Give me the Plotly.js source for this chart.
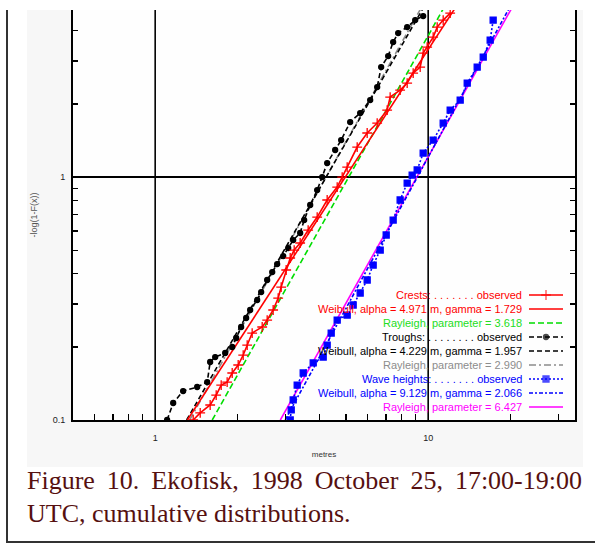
<!DOCTYPE html>
<html><head><meta charset="utf-8">
<script src="https://cdn.plot.ly/plotly-3.0.1.min.js"></script>
<style>
html,body{margin:0;padding:0;background:#fff;width:595px;height:544px;overflow:hidden;}
#frame{position:absolute;left:6px;top:10px;width:600px;height:531px;border-left:2px solid #333;border-bottom:2px solid #333;}
#chart{position:absolute;left:27px;top:10px;width:556px;height:457px;}
.cap{position:absolute;left:27px;width:555px;font-family:"Liberation Serif","Times New Roman",serif;font-size:26px;color:#561010;line-height:33px;}
#cap1{top:464px;text-align:justify;text-align-last:justify;}
#cap2{top:497px;text-align:left;}
</style>
</head><body>
<div id="frame"></div>
<div id="chart"></div>
<div class="cap" id="cap1">Figure 10. Ekofisk, 1998 October 25, 17:00-19:00</div>
<div class="cap" id="cap2">UTC, cumulative distributions.</div>
<script>
// ---- observed data (metres, -log(1-F(x))) ----
const crestX = [1.378,1.462,1.590,1.673,1.745,1.835,1.915,2.014,2.101,2.173,2.266,2.466,2.572,2.705,2.822,2.894,3.019,3.123,3.230,3.397,3.634,3.921,4.266,4.642,4.842,5.050,5.495,5.978,6.505,7.076,7.257,7.894,8.377,8.812,9.348,9.587,9.916,10.43,10.79,11.35,12.04];
const crestY = [0.100,0.1069,0.1153,0.1267,0.1393,0.1433,0.1561,0.1684,0.1851,0.2035,0.2280,0.2414,0.2579,0.2836,0.3177,0.3526,0.4144,0.4642,0.5007,0.5351,0.6052,0.6845,0.8043,0.9097,1.000,1.099,1.329,1.518,1.668,1.887,2.134,2.280,2.437,2.679,2.836,3.238,3.428,3.768,4.142,4.427,4.730];
const troughX = [1.106,1.164,1.266,1.425,1.551,1.590,1.659,1.805,1.915,1.980,2.065,2.154,2.228,2.364,2.445,2.572,2.684,2.798,2.944,3.071,3.203,3.397,3.514,3.697,3.921,4.090,4.266,4.564,4.801,5.179,5.635,6.132,6.505,6.727,7.136,7.443,7.764,8.377,8.964,9.587];
const troughY = [0.100,0.1175,0.1316,0.1367,0.1433,0.1733,0.1816,0.1887,0.1997,0.2175,0.2414,0.2629,0.2836,0.3118,0.3363,0.3769,0.4064,0.4385,0.4730,0.5103,0.5505,0.5883,0.6653,0.7671,0.8841,1.000,1.142,1.292,1.420,1.684,1.834,2.074,2.346,2.836,3.148,3.593,3.913,4.142,4.427,4.598];
const waveX = [3.123,3.150,3.203,3.313,3.485,3.792,4.125,4.266,4.413,4.642,5.050,5.312,5.635,5.978,6.288,6.672,7.018,7.443,7.894,8.377,8.737,9.115,9.587,10.43,11.35,12.04,13.10,13.90,15.12,15.91,16.87,17.30];
const waveY = [0.100,0.1100,0.1209,0.1393,0.1561,0.1717,0.1816,0.2035,0.2280,0.2579,0.2704,0.2974,0.3332,0.3769,0.4343,0.5007,0.5773,0.6653,0.8043,0.9447,1.019,1.069,1.255,1.420,1.668,1.887,2.074,2.437,2.836,3.117,3.663,4.427];
// ---- fitted distributions (end points of straight lines on log-log axes) ----
const crestWeibullX = [1.312, 12.61];  const crestWeibullY = [0.1, 5];
const crestRayleighX = [1.618, 11.44]; const crestRayleighY = [0.1, 5];
const troughWeibullX = [1.304, 9.626]; const troughWeibullY = [0.1, 5];
const troughRayleighX = [1.337, 9.455]; const troughRayleighY = [0.1, 5];
const waveWeibullX = [2.995, 19.89];   const waveWeibullY = [0.1, 5];
const waveRayleighX = [2.874, 20.32];  const waveRayleighY = [0.1, 5];
// ---- labels ----
const legendLabels = [
  "Crests: . . . . . . . observed",
  "Weibull, alpha = 4.971 m, gamma = 1.729",
  "Rayleigh, parameter = 3.618",
  "Troughs: . . . . . . . . observed",
  "Weibull, alpha = 4.229 m, gamma = 1.957",
  "Rayleigh, parameter = 2.990",
  "Wave heights: . . . . . . . observed",
  "Weibull, alpha = 9.129 m, gamma = 2.066",
  "Rayleigh, parameter = 6.427"];
const xTickVals = [0.6,0.7,0.8,0.9,1,2,3,4,5,6,7,8,9,10,20,30];
const xTickText = ["","","","","1","","","","","","","","","10","",""];
const yTickVals = [0.1,0.2,0.3,0.4,0.5,0.6,0.7,0.8,0.9,1,2,3,4];
const yTickText = ["0.1","","","","","","","","","1","","",""];
const xGridVals = [1, 10];
const yGridVals = [1];

// ---- styles ----
const RED='#ff0000', GREEN='#00dd00', BLACK='#000000', GRAY='#8c8c8c', BLUE='#0000ff', MAG='#ff00ff';
const styles = [
  {color:RED, dash:'solid', marker:'cross-thin-open', msize:7, textColor:RED},
  {color:RED, dash:'solid', textColor:RED},
  {color:GREEN, dash:'6px,3px', textColor:'#22dd22'},
  {color:BLACK, dash:'5px,3px', marker:'circle', msize:5, textColor:BLACK},
  {color:BLACK, dash:'5px,3px', textColor:BLACK},
  {color:GRAY, dash:'7px,3px,2px,3px', textColor:GRAY},
  {color:BLUE, dash:'2px,2px', marker:'square', msize:6, textColor:BLUE},
  {color:BLUE, dash:'4px,2px,2px,2px', textColor:BLUE},
  {color:MAG, dash:'solid', textColor:MAG}
];
const series = [
  [crestX, crestY], [crestWeibullX, crestWeibullY], [crestRayleighX, crestRayleighY],
  [troughX, troughY], [troughWeibullX, troughWeibullY], [troughRayleighX, troughRayleighY],
  [waveX, waveY], [waveWeibullX, waveWeibullY], [waveRayleighX, waveRayleighY]
];
const drawOrder = [5,4,2,1,8,7,3,0,6];
const traces = [];
drawOrder.forEach(i => {
  const s = styles[i];
  const t = {x: series[i][0], y: series[i][1], type:'scatter', name: legendLabels[i],
    mode: s.marker ? 'lines+markers' : 'lines',
    line:{color:s.color, width:1.6, dash:s.dash}, hoverinfo:'skip', showlegend:false};
  if (s.marker) t.marker = {symbol:s.marker, size:s.msize, color:s.color, line:{color:s.color, width:1.3}};
  traces.push(t);
});

// ---- manual legend (text left of key, right aligned) ----
const plotTop = 10, plotBottom = 420, plotLeft = 73, plotRight = 575;
const fx = px => (px - plotLeft) / (plotRight - plotLeft);
const fy = py => (plotBottom - py) / (plotBottom - plotTop);
const rowStart = 295, rowStep = 14;
const annotations = [];
legendLabels.forEach((lab, i) => {
  const yy = fy(rowStart + rowStep * i);
  const s = styles[i];
  annotations.push({xref:'paper', yref:'paper', x: fx(524), y: yy, xanchor:'right', yanchor:'middle',
    text: lab, showarrow:false, font:{family:'Liberation Sans, Arial, sans-serif', size:11, color:s.textColor}});
  const key = {x:[fx(529), fx(546), fx(563)], y:[yy, yy, yy], xaxis:'x2', yaxis:'y2', type:'scatter',
    mode: s.marker ? 'lines+markers' : 'lines', line:{color:s.color, width:1.6, dash:s.dash},
    hoverinfo:'skip', showlegend:false};
  if (s.marker) key.marker = {symbol:s.marker, size:[0, s.msize, 0], color:s.color, line:{color:s.color, width:1.3}};
  traces.push(key);
});

// ---- heavy reference grid lines ----
const shapes = [];
xGridVals.forEach(v => shapes.push({type:'line', layer:'below', xref:'x', yref:'paper',
  x0:v, x1:v, y0:0, y1:1, line:{color:'#000', width:1.6}}));
yGridVals.forEach(v => shapes.push({type:'line', layer:'below', xref:'paper', yref:'y',
  x0:0, x1:1, y0:v, y1:v, line:{color:'#000', width:2}}));

const tickFont = {family:'Liberation Sans, Arial, sans-serif', size:9, color:'#222'};
const layout = {
  width:556, height:457,
  margin:{l:46, r:8, t:0, b:47, pad:0},
  paper_bgcolor:'#f7f7f7', plot_bgcolor:'#fefefe',
  showlegend:false,
  font:{family:'Liberation Sans, Arial, sans-serif'},
  xaxis:{type:'log', range:[Math.log10(0.5), Math.log10(34.5)], autorange:false,
    tickmode:'array', tickvals:xTickVals, ticktext:xTickText, ticks:'inside', ticklen:6, tickwidth:1.3, tickcolor:'#000',
    tickfont:tickFont, ticklabelstandoff:8, layer:'above traces',
    showgrid:false, zeroline:false,
    showline:true, linecolor:'#000', linewidth:2, mirror:false,
    title:{text:'metres', font:{size:8, color:'#333'}, standoff:10}},
  yaxis:{type:'log', range:[-1, Math.log10(4.87)], autorange:false,
    tickmode:'array', tickvals:yTickVals, ticktext:yTickText, ticks:'inside', ticklen:5, tickwidth:1.3, tickcolor:'#000',
    tickfont:tickFont, ticklabelstandoff:4, layer:'above traces',
    showgrid:false, zeroline:false,
    showline:true, linecolor:'#000', linewidth:2, mirror:'ticks',
    title:{text:'-log(1-F(x))', font:{size:9, color:'#555'}, standoff:14}},
  xaxis2:{overlaying:'x', range:[0,1], visible:false, fixedrange:true},
  yaxis2:{overlaying:'y', range:[0,1], visible:false, fixedrange:true},
  shapes: shapes,
  annotations: annotations
};
Plotly.newPlot('chart', traces, layout, {staticPlot:true, displayModeBar:false});
</script>
</body></html>
